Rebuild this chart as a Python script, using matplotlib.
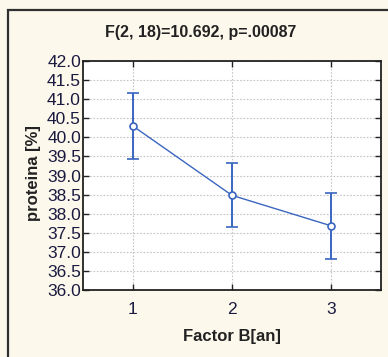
import matplotlib
matplotlib.use("Agg")
from matplotlib import pyplot as plt
from matplotlib.patches import Rectangle

plt.rcParams['font.family'] = ['Liberation Sans', 'DejaVu Sans']

# data
levels = [1, 2, 3]
means = [40.30, 38.48, 37.68]
ci = [0.86, 0.84, 0.87]
yticks = [36.0, 36.5, 37.0, 37.5, 38.0, 38.5, 39.0, 39.5, 40.0, 40.5, 41.0, 41.5, 42.0]

W, H = 388, 357
fig = plt.figure(figsize=(W / 100, H / 100), dpi=100)
fig.patch.set_facecolor("#fdf8ec")

# outer frame (left + top visible)
fig.add_artist(Rectangle((8 / W, -0.2), 1.2, (H - 10) / H + 0.2, transform=fig.transFigure,
                         fill=False, edgecolor="#303030", linewidth=1.6))

ax = fig.add_axes([83 / W, 1 - 290 / H, (381 - 83) / W, (290 - 61) / H])
ax.set_facecolor("white")

col = "#3a66c0"
ax.errorbar(levels, means, yerr=ci, color=col, linewidth=1.0, elinewidth=1.4,
            capsize=4.5, capthick=1.4, marker="o", markersize=5,
            markerfacecolor="white", markeredgecolor=col, markeredgewidth=1.2, zorder=3)

ax.set_xlim(0.5, 3.5)
ax.set_ylim(36, 42)
ax.set_xticks(levels)
ax.set_yticks(yticks)
ax.set_yticklabels([f"{v:.1f}" for v in yticks])
ax.grid(True, color="#c4c4c4", linestyle=(0, (1.5, 1.5)), linewidth=0.8)
ax.tick_params(direction="in", top=True, right=True, length=4, width=1, color="#222222",
               labelsize=12.5, labelcolor="#1a1a40")
ax.tick_params(axis="y", pad=1.5)
ax.tick_params(axis="x", pad=9)
for s in ax.spines.values():
    s.set_color("#222222")
    s.set_linewidth(1.3)

ax.set_xlabel("Factor B[an]", fontweight="bold", fontsize=12, labelpad=8, color="#222222")
ax.set_ylabel("proteina [%]", fontweight="bold", fontsize=12, color="#222222")
ax.yaxis.set_label_coords((41 - 83) / 298, 0.51)
fig.text(201 / W, 1 - 32 / H, "F(2, 18)=10.692, p=.00087", ha="center", va="center",
         fontweight="bold", fontsize=11.5, color="#222222")

fig.savefig("out.png", dpi=100, facecolor=fig.get_facecolor())
